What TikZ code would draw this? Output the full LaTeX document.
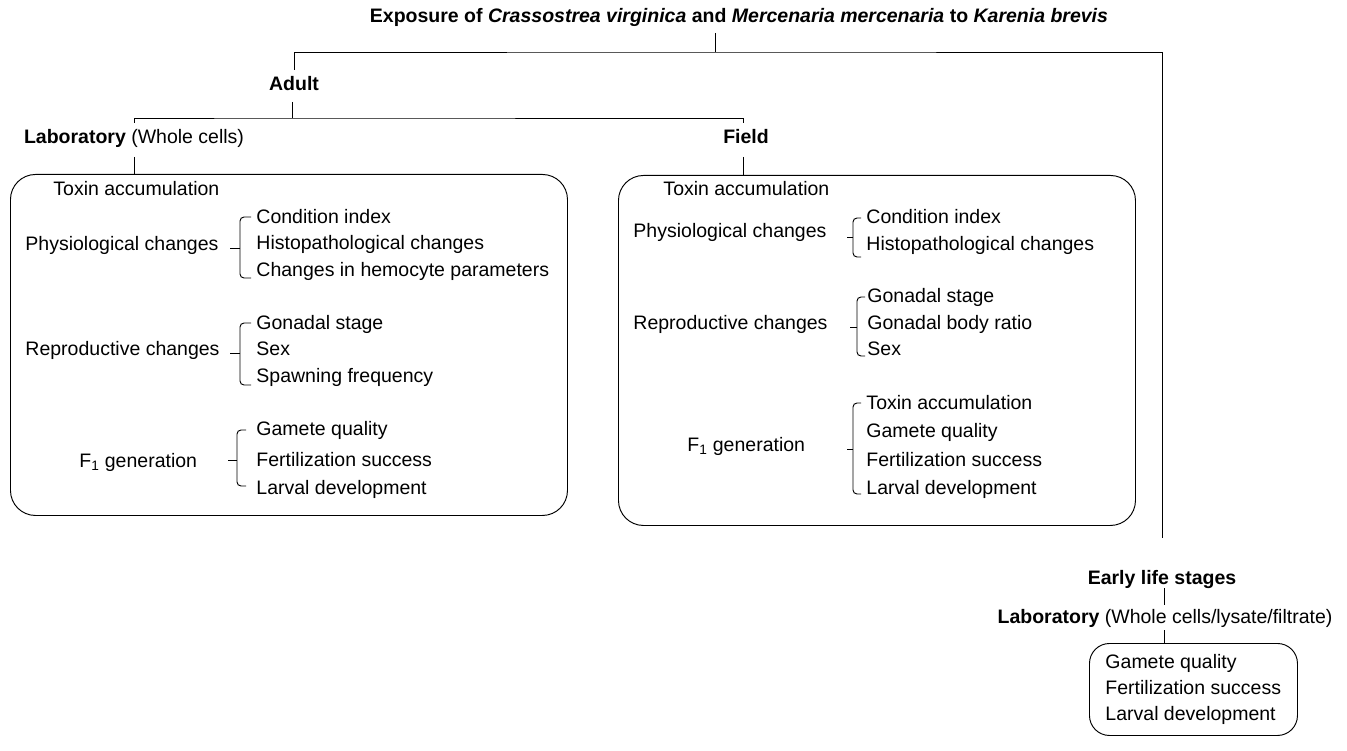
\documentclass[tikz,border=0pt]{standalone}
\usepackage{fontspec}
\setmainfont{Liberation Sans}
\newcommand\fs{\fontsize{19.5}{23}\selectfont}
% bracket: x, top, bottom, mid, hook, tick
\newcommand\brk[6]{%
  \draw[rounded corners=4pt] ({#1+#5},#2) -- (#1,#2) -- (#1,#3) -- ({#1+#5},#3);
  \draw (#1,#4) -- ({#1-#6},#4);}
\begin{document}
\begin{tikzpicture}[x=1pt,y=-1pt,line width=0.95pt,
  lbl/.style={anchor=mid west,inner sep=0pt,font=\fs},
  hd/.style={anchor=mid,inner sep=0pt,font=\fs},
  card/.style={draw,rounded corners=25pt,anchor=north west,inner sep=0pt}]
\useasboundingbox (0,0) rectangle (1347,751);

% ---- title and top bracket
\node[hd] (title) at (739,20) {\textbf{Exposure of \textit{Crassostrea virginica} and \textit{Mercenaria mercenaria} to \textit{Karenia brevis}}};
\coordinate (t0) at (715,33);
\coordinate (j0) at (715,52);
\coordinate (aTop) at (294,70);
\coordinate (eEnd) at (1162,538);
\draw (t0) -- (j0);
\draw (aTop) |- (j0) -| (eEnd);

% ---- adult
\node[hd] (adult) at (294,88) {\textbf{Adult}};
\coordinate (a1) at (292,102);
\coordinate (a2) at (292,118);
\coordinate (labTop) at (134,123);
\coordinate (fieldTop) at (743,123);
\draw (a1) -- (a2);
\draw (labTop) |- (a2) -| (fieldTop);

\node[hd] (lab) at (134,141) {\textbf{Laboratory} (Whole cells)};
\node[hd] (field) at (746,141) {\textbf{Field}};

% ---- laboratory box
\node[card,minimum width=557pt,minimum height=341pt] (labbox) at (10,174) {};
\coordinate (l1) at (134,157);
\draw (l1) -- (labbox.north -| l1);

\node[lbl] (lt) at (53,193) {Toxin accumulation};
\node[lbl] (lp) at (25,248) {Physiological changes};
\node[lbl] (lp1) at (256,221) {Condition index};
\node[lbl] (lp2) at (256,247) {Histopathological changes};
\node[lbl] (lp3) at (256,274) {Changes in hemocyte parameters};
\brk{240}{217}{278}{248}{11}{10}
\node[lbl] (lr) at (25,353) {Reproductive changes};
\node[lbl] (lr1) at (256,327) {Gonadal stage};
\node[lbl] (lr2) at (256,353) {Sex};
\node[lbl] (lr3) at (256,380) {Spawning frequency};
\brk{240}{323}{385}{353}{11}{10}
\node[lbl] (lf) at (79,465) {F\textsubscript{1} generation};
\node[lbl] (lf1) at (256,433) {Gamete quality};
\node[lbl] (lf2) at (256,464) {Fertilization success};
\node[lbl] (lf3) at (256,492) {Larval development};
\brk{237}{430}{486}{460}{9}{9}

% ---- field box
\node[card,minimum width=517pt,minimum height=350pt] (fieldbox) at (618,175) {};
\coordinate (f1) at (743,157);
\draw (f1) -- (fieldbox.north -| f1);

\node[lbl] (ft) at (663,193) {Toxin accumulation};
\node[lbl] (fp) at (633,235) {Physiological changes};
\node[lbl] (fp1) at (866,221) {Condition index};
\node[lbl] (fp2) at (866,248) {Histopathological changes};
\brk{853}{218}{257}{237}{8}{6}
\node[lbl] (fr) at (633,327) {Reproductive changes};
\node[lbl] (fr1) at (867,300) {Gonadal stage};
\node[lbl] (fr2) at (867,327) {Gonadal body ratio};
\node[lbl] (fr3) at (867,353) {Sex};
\brk{857}{297}{356}{327}{8}{7}
\node[lbl] (ff) at (687,449) {F\textsubscript{1} generation};
\node[lbl] (ff1) at (866,407) {Toxin accumulation};
\node[lbl] (ff2) at (866,435) {Gamete quality};
\node[lbl] (ff3) at (866,464) {Fertilization success};
\node[lbl] (ff4) at (866,492) {Larval development};
\brk{853}{403}{494}{449}{8}{6}

% ---- early life stages
\node[hd] (early) at (1162,582) {\textbf{Early life stages}};
\node[hd] (lab2) at (1165,621) {\textbf{Laboratory} (Whole cells/lysate/filtrate)};
\coordinate (e1) at (1164,588);
\coordinate (e2) at (1164,605);
\draw (e1) -- (e2);
\node[card,rounded corners=20pt,minimum width=208pt,minimum height=92pt] (ebox) at (1089,643) {};
\coordinate (e3) at (1164,630);
\draw (e3) -- (ebox.north -| e3);
\node[lbl] (eb1) at (1105,666) {Gamete quality};
\node[lbl] (eb2) at (1105,692) {Fertilization success};
\node[lbl] (eb3) at (1105,718) {Larval development};
\end{tikzpicture}
\end{document}
